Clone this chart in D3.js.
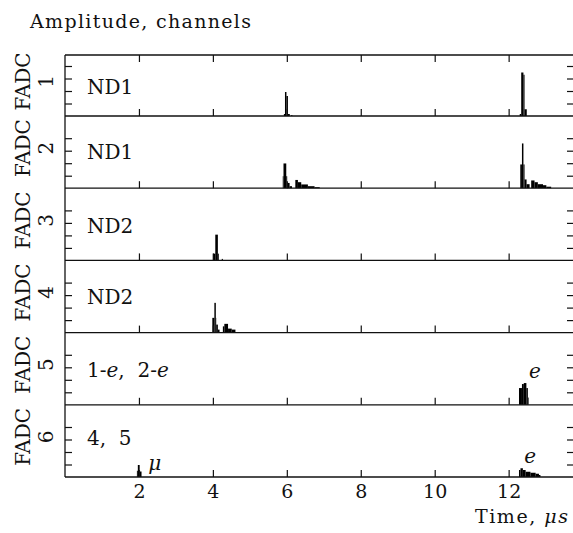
<!DOCTYPE html>
<html>
<head>
<meta charset="utf-8">
<script src="https://cdn.jsdelivr.net/npm/d3@7"></script>
<style>
  body { margin: 0; background: #fff; }
  svg text { font-family: "DejaVu Serif", serif; fill: #111; }
</style>
</head>
<body>
<div id="chart"></div>
<script>
// FADC amplitude histograms, each bin: [t start (us), t end (us), amplitude (channels)]
const fadc1 = [[5.92,5.95,8],[5.95,5.99,96],[5.99,6.03,80],[6.03,6.08,8],[6.12,6.15,4],
  [12.30,12.34,8],[12.34,12.40,174],[12.40,12.43,165],[12.43,12.49,27]];
const fadc2 = [[5.89,5.91,48],[5.91,5.985,99],[5.985,6.01,48],[6.01,6.075,21],[6.075,6.14,8],
  [6.23,6.30,33],[6.30,6.39,24],[6.39,6.57,15],[6.57,6.75,8],[6.75,6.89,4],
  [12.315,12.36,95],[12.36,12.40,179],[12.40,12.43,95],[12.43,12.485,35],[12.485,12.567,16],
  [12.61,12.70,31],[12.70,12.79,24],[12.79,12.93,16],[12.93,13.02,12],[13.02,13.15,6]];
const fadc3 = [[4.00,4.065,27],[4.065,4.135,103],[4.135,4.16,27],[4.24,4.27,6]];
const fadc4 = [[3.985,4.04,59],[4.04,4.08,119],[4.08,4.09,59],[4.09,4.135,32],[4.135,4.18,12],
  [4.27,4.31,25],[4.31,4.41,35],[4.41,4.51,16],[4.51,4.61,12]];
const fadc5 = [[12.28,12.36,67],[12.36,12.41,83],[12.41,12.48,87],[12.48,12.52,67],[12.52,12.54,29]];
const fadc6 = [[1.945,1.97,25],[1.97,2.02,48],[2.02,2.07,22],
  [12.28,12.32,28],[12.32,12.385,35],[12.385,12.46,28],[12.46,12.59,21],[12.59,12.73,17],
  [12.73,12.82,13],[12.82,12.86,8]];

const channels = ["1","2","3","4","5","6"];
// panel texts: pieces of [text, italic]
const panelTexts = [
  [["ND1",false]], [["ND1",false]], [["ND2",false]], [["ND2",false]],
  [["1-",false],["e",true],[",\u00a0\u00a02-",false],["e",true]],
  [["4,\u00a0\u00a05",false]]
];
// particle marks: [panel index, t, amplitude, label]
const marks = [[4,12.55,108,"e"],[5,12.42,55,"e"],[5,2.25,28,"\u03bc"]];
const xTicks = [2,4,6,8,10,12];
const yTicks = [50,100,150,200];

const allData = [fadc1, fadc2, fadc3, fadc4, fadc5, fadc6];

const W = 573, H = 533;
const plotLeft = 65, plotRight = 574, plotTop = 55, plotBottom = 477;
const panelH = 72.2;
const labelShift = [8, 7, 9, 7, 8, 4];
const FONT = "DejaVu Serif, serif";

const svg = d3.select("#chart").append("svg")
  .attr("width", W).attr("height", H)
  .attr("font-family", FONT);

const x = d3.scaleLinear().domain([0, (plotRight - plotLeft) / 36.97]).range([plotLeft, plotRight]);

// panel bottoms, from top panel down
const bottoms = channels.map((c, i) => plotBottom - (5 - i) * panelH);

allData.forEach(function (bins, i) {
  const b = bottoms[i];
  const t = i === 0 ? plotTop : bottoms[i - 1];
  const y = d3.scaleLinear().domain([0, 250]).range([b, b - 62.5]);
  const g = svg.append("g");

  g.selectAll("rect").data(bins).enter().append("rect")
    .attr("x", d => x(d[0]))
    .attr("width", d => x(d[1]) - x(d[0]))
    .attr("y", d => y(d[2]))
    .attr("height", d => b - y(d[2]))
    .attr("fill", "#000");

  // inward ticks
  const xb = g.append("g").attr("transform", "translate(0," + b + ")")
    .call(d3.axisBottom(x).tickValues(xTicks).tickSizeInner(-7).tickSizeOuter(0).tickPadding(8));
  xb.select(".domain").remove();
  xb.attr("font-family", FONT);
  if (i < 5) xb.selectAll("text").remove();
  else xb.selectAll("text").attr("font-size", 19).attr("fill", "#111");
  if (i === 0) {
    const xt = g.append("g").attr("transform", "translate(0," + t + ")")
      .call(d3.axisTop(x).tickValues(xTicks).tickSizeInner(-7).tickSizeOuter(0));
    xt.select(".domain").remove();
    xt.selectAll("text").remove();
  }
  const yl = g.append("g").attr("transform", "translate(" + plotLeft + ",0)")
    .call(d3.axisLeft(y).tickValues(yTicks).tickSizeInner(-7).tickSizeOuter(0));
  yl.select(".domain").remove(); yl.selectAll("text").remove();
  const yr = g.append("g").attr("transform", "translate(" + plotRight + ",0)")
    .call(d3.axisRight(y).tickValues(yTicks).tickSizeInner(-7).tickSizeOuter(0));
  yr.select(".domain").remove(); yr.selectAll("text").remove();

  // horizontal frame line at panel bottom
  g.append("line").attr("x1", plotLeft).attr("x2", plotRight).attr("y1", b).attr("y2", b)
    .attr("stroke", "#111").attr("stroke-width", 1.3);

  // panel label
  const lbl = g.append("text").attr("x", 87).attr("y", t + (b - t) / 2 + labelShift[i])
    .attr("font-size", 20);
  panelTexts[i].forEach(p => {
    lbl.append("tspan").text(p[0]).attr("font-style", p[1] ? "italic" : "normal");
  });

  // rotated y label
  const cy = t + (b - t) / 2 - 4;
  const yt = g.append("text").attr("transform", "translate(30," + cy + ") rotate(-90)")
    .attr("text-anchor", "middle").attr("font-size", 20);
  yt.append("tspan").attr("x", 0).attr("y", 0).text("FADC");
  yt.append("tspan").attr("x", 0).attr("y", 23).text(channels[i]);
});

svg.selectAll(".tick line").attr("stroke", "#111").attr("stroke-width", 1.2);

// particle labels
marks.forEach(function (m) {
  const b = bottoms[m[0]];
  const y = d3.scaleLinear().domain([0, 250]).range([b, b - 62.5]);
  svg.append("text").attr("x", x(m[1])).attr("y", y(m[2]))
    .attr("font-size", 20).attr("font-style", "italic").text(m[3]);
});

// frame: top and left
svg.append("line").attr("x1", plotLeft).attr("x2", plotRight).attr("y1", plotTop).attr("y2", plotTop)
  .attr("stroke", "#111").attr("stroke-width", 1.3);
svg.append("line").attr("x1", plotLeft).attr("x2", plotLeft).attr("y1", plotTop).attr("y2", plotBottom)
  .attr("stroke", "#111").attr("stroke-width", 1.3);

// titles
svg.append("text").attr("x", 30).attr("y", 28).attr("font-size", 19)
  .attr("textLength", 221).attr("lengthAdjust", "spacing").text("Amplitude, channels");
const xl = svg.append("text").attr("x", 475).attr("y", 523).attr("font-size", 19)
  .attr("textLength", 93).attr("lengthAdjust", "spacing");
xl.append("tspan").text("Time, ");
xl.append("tspan").attr("font-style", "italic").text("\u03bcs");
</script>
</body>
</html>
